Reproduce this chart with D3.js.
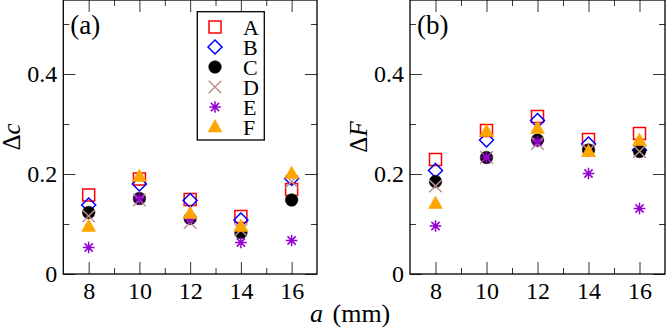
<!DOCTYPE html>
<html>
<head>
<meta charset="utf-8">
<script src="https://cdn.jsdelivr.net/npm/d3@7"></script>
<style>
  body { margin: 0; background: #fff; }
  svg { display: block; }
  .tick line { stroke: #333; stroke-width: 1; }
</style>
</head>
<body>
<svg id="chart" width="666" height="328"></svg>
<script>
// plate spacing a (mm)
var aValues = [8, 10, 12, 14, 16];
var seriesNames = ["A", "B", "C", "D", "E", "F"];
var seriesColors = ["#ff0000", "#0000ff", "#000000", "#bc8f8f", "#9400d3", "#ffa500"];
var seriesShapes = ["square", "diamond", "circle", "cross", "star", "triangle"];

// panel (a): delta c
var dcA = [0.158, 0.190, 0.149, 0.115, 0.169];
var dcB = [0.138, 0.180, 0.147, 0.108, 0.191];
var dcC = [0.123, 0.151, 0.111, 0.083, 0.148];
var dcD = [0.116, 0.148, 0.103, 0.088, 0.185];
var dcE = [0.053, 0.151, 0.110, 0.063, 0.067];
var dcF = [0.095, 0.195, 0.121, 0.095, 0.201];

// panel (b): delta F
var dFA = [0.229, 0.287, 0.315, 0.269, 0.281];
var dFB = [0.207, 0.268, 0.307, 0.260, 0.248];
var dFC = [0.185, 0.233, 0.268, 0.248, 0.245];
var dFD = [0.176, 0.233, 0.261, 0.247, 0.245];
var dFE = [0.096, 0.233, 0.265, 0.201, 0.131];
var dFF = [0.141, 0.285, 0.291, 0.245, 0.267];

var xMajor = [8, 10, 12, 14, 16];
var xMinor = [9, 11, 13, 15];
var yMajor = [0, 0.2, 0.4];
var yMinor = [0.1, 0.3, 0.5];

var serif = "'Liberation Serif'";
var svg = d3.select("#chart");

var markerPath = function(shape) {
  var p = d3.path();
  if (shape === "square") {
    p.rect(-6, -6, 12, 12);
  } else if (shape === "diamond") {
    p.moveTo(0, -7); p.lineTo(7, 0); p.lineTo(0, 7); p.lineTo(-7, 0); p.closePath();
  } else if (shape === "circle") {
    p.arc(0, 0, 6.3, 0, 2 * Math.PI);
  } else if (shape === "cross") {
    p.moveTo(-6.3, -6.3); p.lineTo(6.3, 6.3); p.moveTo(6.3, -6.3); p.lineTo(-6.3, 6.3);
  } else if (shape === "star") {
    var r = 5.8, i, ang;
    for (i = 0; i < 4; i++) {
      ang = i * Math.PI / 4;
      p.moveTo(r * Math.cos(ang), r * Math.sin(ang));
      p.lineTo(-r * Math.cos(ang), -r * Math.sin(ang));
    }
  } else {
    p.moveTo(0, -7.5); p.lineTo(7, 5); p.lineTo(-7, 5); p.closePath();
  }
  return p.toString();
};

var drawMarker = function(g, i, x, y) {
  var shape = seriesShapes[i], col = seriesColors[i];
  var filled = shape === "circle" || shape === "triangle";
  return g.append("path")
    .attr("d", markerPath(shape))
    .attr("transform", "translate(" + x + "," + y + ")")
    .attr("fill", filled ? col : "none")
    .attr("stroke", col)
    .attr("stroke-width", filled ? 0.5 : 1.5);
};

var label = function(g, size) {
  return g.append("text")
    .style("font-family", serif)
    .style("font-size", size + "px")
    .attr("fill", "#000");
};

var drawPanel = function(left, right, series, tag, ylabel, ylabelX) {
  var x = d3.scaleLinear().domain([7, 17]).range([left, right]);
  var y = d3.scaleLinear().domain([0, 0.55]).range([274, -1]);
  var g = svg.append("g");

  var axes = [
    [d3.axisBottom(x).tickValues(xMajor).tickSize(-12).tickPadding(8).tickFormat(d3.format("d")), "translate(0,274)"],
    [d3.axisBottom(x).tickValues(xMinor).tickSize(-6).tickFormat(""), "translate(0,274)"],
    [d3.axisTop(x).tickValues(xMajor).tickSize(-12).tickFormat(""), "translate(0,0)"],
    [d3.axisTop(x).tickValues(xMinor).tickSize(-6).tickFormat(""), "translate(0,0)"],
    [d3.axisLeft(y).tickValues(yMajor).tickSize(-12).tickPadding(6).tickFormat(function(d) { return String(d); }), "translate(" + left + ",0)"],
    [d3.axisLeft(y).tickValues(yMinor).tickSize(-6).tickFormat(""), "translate(" + left + ",0)"],
    [d3.axisRight(y).tickValues(yMajor).tickSize(-12).tickFormat(""), "translate(" + right + ",0)"],
    [d3.axisRight(y).tickValues(yMinor).tickSize(-6).tickFormat(""), "translate(" + right + ",0)"]
  ];
  axes.forEach(function(a) {
    var ax = g.append("g").attr("transform", a[1]).call(a[0]);
    ax.select(".domain").remove();
    ax.selectAll("text").style("font-family", serif).style("font-size", "24px").attr("fill", "#000");
  });

  g.append("rect")
    .attr("x", left).attr("y", 0)
    .attr("width", right - left).attr("height", 274)
    .attr("fill", "none").attr("stroke", "#000").attr("stroke-width", 1.3);

  series.forEach(function(vals, i) {
    vals.forEach(function(v, j) {
      drawMarker(g, i, x(aValues[j]), y(v));
    });
  });

  label(g, 27).attr("x", left + 7).attr("y", 34).text(tag);

  var yl = label(g, 25)
    .attr("transform", "translate(" + ylabelX + ",137) rotate(-90)")
    .attr("text-anchor", "middle");
  yl.append("tspan").text("\u0394");
  yl.append("tspan").style("font-style", "italic").text(ylabel);

  return g;
};

var panelA = drawPanel(63.3, 317, [dcA, dcB, dcC, dcD, dcE, dcF], "(a)", "c", 20);
drawPanel(410, 665, [dFA, dFB, dFC, dFD, dFE, dFF], "(b)", "F", 367);

// legend in panel (a)
var legend = panelA.append("g");
legend.append("rect")
  .attr("x", 197.3).attr("y", 11.7)
  .attr("width", 67).attr("height", 128.3)
  .attr("fill", "#fff").attr("stroke", "#000").attr("stroke-width", 1.3);
seriesNames.forEach(function(name, i) {
  var cy = 27 + i * 20;
  drawMarker(legend, i, 215, cy);
  label(legend, 22).attr("x", 243).attr("y", cy + 7.5).text(name);
});

// shared x label
var xl = label(svg, 26).attr("x", 310).attr("y", 322);
xl.append("tspan").style("font-style", "italic").text("a");
xl.append("tspan").attr("dx", 3).text(" (mm)");
</script>
</body>
</html>
